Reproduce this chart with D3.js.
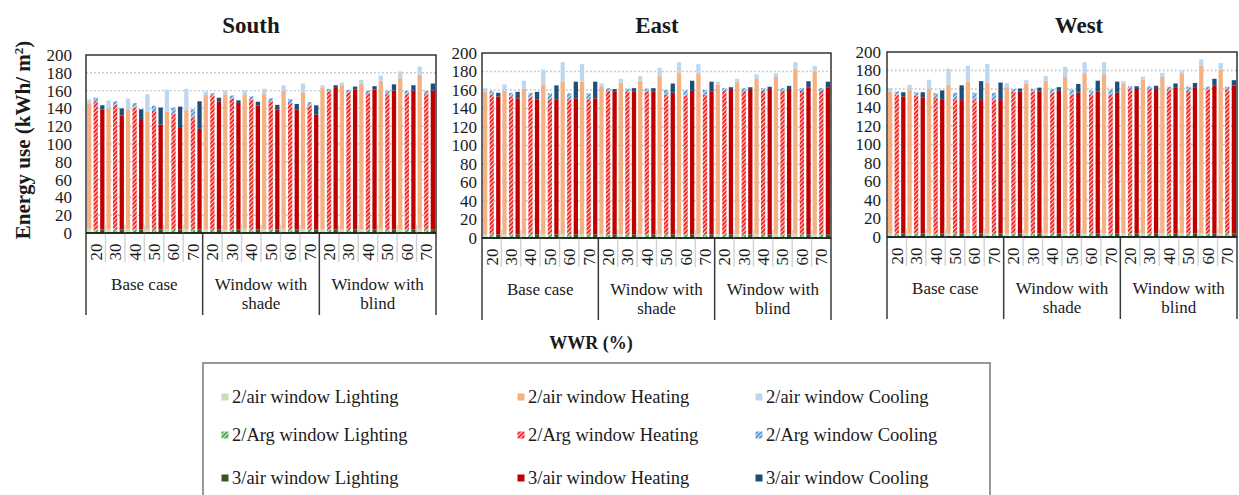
<!DOCTYPE html>
<html>
<head>
<meta charset="utf-8">
<script src="https://cdn.jsdelivr.net/npm/d3@7"></script>
<style>
  html, body { margin: 0; padding: 0; background: #fff; }
  svg { display: block; font-family: "Liberation Serif", "Times New Roman", serif; }
</style>
</head>
<body>
<svg id="chart" width="1239" height="495"></svg>
<script>
// ---- Data -------------------------------------------------------------
const orientations = ["South", "East", "West"];
const caseLabels = [["Base case"], ["Window with", "shade"], ["Window with", "blind"]];
const wwrLabels = ["20", "30", "40", "50", "60", "70"];
const windowTypes = ["2/air window", "2/Arg window", "3/air window"];
const components = ["Lighting", "Heating", "Cooling"];
const yTicks = [0, 20, 40, 60, 80, 100, 120, 140, 160, 180, 200];

// Lighting energy (kWh/m²); 18 values = 3 cases x 6 WWR
const air2Lighting = [4, 4, 4, 4, 4, 4, 4, 4, 4, 4, 4, 4, 4, 4, 4, 4, 4, 4];
const arg2Lighting = [4, 4, 4, 4, 4, 4, 4, 4, 4, 4, 4, 4, 4, 4, 4, 4, 4, 4];
const air3Lighting = [4, 4, 4, 4, 4, 4, 4, 4, 4, 4, 4, 4, 4, 4, 4, 4, 4, 4];

// South
const southAir2Heating = [141, 136, 135, 132, 132, 134, 151, 152, 151, 152, 156, 154, 159, 162, 164, 167, 170, 174];
const southAir2Cooling = [5, 9, 12, 20, 25, 24, 4, 4, 5, 6, 6, 10, 3, 3, 4, 6, 7.5, 9];
const southArg2Heating = [144, 140, 137, 133, 130, 126, 150, 147, 146, 144, 142, 139, 155, 154, 153, 152, 152, 152];
const southArg2Cooling = [4, 4, 5, 6, 7, 9, 3, 3.5, 3.5, 3.5, 4.5, 4, 3, 3, 3, 4, 4, 4];
const southAir3Heating = [135, 128, 124, 118, 115, 113, 144, 142, 139, 135, 135, 129, 159, 157, 157, 156, 156, 156];
const southAir3Cooling = [4.5, 8, 11, 19, 23, 31, 4, 3, 4.5, 5, 6, 10.5, 3, 3.5, 4, 7, 6, 8];

// East
const eastAir2Heating = [154, 155, 157, 162, 165, 165, 160, 164, 166, 171, 175, 174, 162, 165, 168, 170, 179, 176];
const eastAir2Cooling = [4, 7, 9, 16, 21, 19, 3, 4, 5, 9, 11, 10, 3, 3, 5, 4, 7, 6];
const eastArg2Heating = [151, 149, 148, 146, 146, 146, 155, 154, 154, 151, 150, 151, 155, 155, 155, 155, 155, 155];
const eastArg2Cooling = [4, 4, 5, 6.5, 6.5, 6.5, 3, 3.5, 3.5, 5, 5.5, 5, 3, 3, 3, 3, 3, 3];
const eastAir3Heating = [149, 147, 146, 146, 147, 147, 154, 154, 154, 153, 155, 154, 156, 156, 156, 157, 159, 159];
const eastAir3Cooling = [4, 7, 8, 15, 18, 18, 3, 4, 4, 10, 11, 11, 3, 3, 3.5, 3.5, 6.5, 6];

// West
const westAir2Heating = [153, 155, 156, 161, 164, 163, 158, 162, 165, 169, 173, 172, 162, 166, 169, 173, 181, 177];
const westAir2Cooling = [4, 5.5, 10, 17, 17, 20, 4.5, 3.5, 5, 11, 12, 13, 2.5, 3.5, 4.5, 3, 7, 7];
const westArg2Heating = [150, 149, 147, 145, 144, 144, 153, 153, 152, 150, 150, 150, 156, 156, 155, 154, 155, 155];
const westArg2Cooling = [3.5, 3.5, 4.5, 7, 8, 8, 3, 3, 4, 5.5, 4.5, 5.5, 3, 3, 3.5, 4.5, 3.5, 3.5];
const westAir3Heating = [148, 147, 145, 144, 144, 144, 153, 153, 154, 152, 153, 152, 156, 156, 158, 158, 160, 160];
const westAir3Cooling = [4.5, 5.5, 9.5, 16, 20.5, 19, 3.5, 4.5, 4, 9.5, 12, 12, 3, 3.5, 4, 4.5, 7, 5.5];

const lightingByWindow = [air2Lighting, arg2Lighting, air3Lighting];
const panelSeries = {
  South: [[southAir2Heating, southAir2Cooling], [southArg2Heating, southArg2Cooling], [southAir3Heating, southAir3Cooling]],
  East:  [[eastAir2Heating, eastAir2Cooling],   [eastArg2Heating, eastArg2Cooling],   [eastAir3Heating, eastAir3Cooling]],
  West:  [[westAir2Heating, westAir2Cooling],   [westArg2Heating, westArg2Cooling],   [westAir3Heating, westAir3Cooling]]
};

// ---- Drawing ----------------------------------------------------------
const svg = d3.select("#chart");
const defs = svg.append("defs");

function hatch(id, color) {
  const p = defs.append("pattern")
    .attr("id", id).attr("patternUnits", "userSpaceOnUse")
    .attr("width", 3).attr("height", 3)
    .attr("patternTransform", "rotate(45)");
  p.append("rect").attr("width", 3).attr("height", 3).attr("fill", "#ffffff");
  p.append("rect").attr("width", 2.2).attr("height", 3).attr("fill", color);
}
hatch("hatchGreen", "#3fae4a");
hatch("hatchRed", "#f42a2a");
hatch("hatchBlue", "#5b9bd5");

const fills = [
  ["#c5e0b4", "#f4b183", "#bdd7ee"],
  ["url(#hatchGreen)", "url(#hatchRed)", "url(#hatchBlue)"],
  ["#385723", "#c00000", "#1f4e79"]
];

const panelLayout = [
  { left: 86,  right: 436,  top: 55, bottom: 233, labelGap: 14, titleX: 251 },
  { left: 482, right: 831,  top: 53, bottom: 238, labelGap: 5,  titleX: 657 },
  { left: 887, right: 1237, top: 52, bottom: 237, labelGap: 6,  titleX: 1079 }
];

const slots = d3.range(caseLabels.length * wwrLabels.length);
const stack = d3.stack().keys(components);

orientations.forEach((name, pi) => {
  const L = panelLayout[pi];
  const g = svg.append("g");

  const y = d3.scaleLinear().domain([0, 200]).range([L.bottom, L.top]);
  const x0 = d3.scaleBand().domain(slots).range([L.left, L.right]);
  const x1 = d3.scaleBand().domain(windowTypes).range([0, x0.bandwidth()])
    .paddingInner(0.35).paddingOuter(0.15);

  // title
  g.append("text").attr("x", L.titleX).attr("y", 33)
    .attr("text-anchor", "middle").attr("font-size", 23).attr("font-weight", "bold")
    .attr("fill", "#1a1a1a").text(name);

  // dotted gridlines
  g.append("g").selectAll("line").data(yTicks.filter(t => t > 0 && t < 200)).join("line")
    .attr("x1", L.left).attr("x2", L.right)
    .attr("y1", d => y(d)).attr("y2", d => y(d))
    .attr("stroke", "#bfbfbf").attr("stroke-width", 1.4).attr("stroke-dasharray", "1.6,2.4");

  // y axis labels
  const yAxis = d3.axisLeft(y).tickValues(yTicks).tickSize(0).tickPadding(L.labelGap);
  const ya = g.append("g").attr("transform", `translate(${L.left},0)`).call(yAxis);
  ya.select(".domain").remove();
  ya.attr("font-family", null);
  ya.selectAll("text").attr("font-size", 17).attr("fill", "#1a1a1a");

  // bars
  windowTypes.forEach((w, wi) => {
    const [heat, cool] = panelSeries[name][wi];
    const rows = slots.map(i => ({ Lighting: lightingByWindow[wi][i], Heating: heat[i], Cooling: cool[i] }));
    const layers = stack(rows);
    layers.forEach((layer, ci) => {
      g.append("g").selectAll("rect").data(layer).join("rect")
        .attr("x", (d, i) => x0(i) + x1(w))
        .attr("width", x1.bandwidth())
        .attr("y", d => y(d[1]))
        .attr("height", d => y(d[0]) - y(d[1]))
        .attr("fill", fills[wi][ci]);
    });
  });

  // plot frame
  g.append("rect").attr("x", L.left).attr("y", L.top)
    .attr("width", L.right - L.left).attr("height", L.bottom - L.top)
    .attr("fill", "none").attr("stroke", "#262626").attr("stroke-width", 1.4);

  // light separators between WWR labels
  const sepSlots = slots.concat([slots.length]).filter(i => i % wwrLabels.length !== 0);
  g.append("g").selectAll("line").data(sepSlots).join("line")
    .attr("x1", i => L.left + i * x0.step()).attr("x2", i => L.left + i * x0.step())
    .attr("y1", L.bottom - 8).attr("y2", L.bottom + 29)
    .attr("stroke", "#d2d2d2").attr("stroke-width", 1.4);

  // group separators
  const groupEdges = d3.range(caseLabels.length + 1).map(k => k * wwrLabels.length);
  g.append("g").selectAll("line").data(groupEdges).join("line")
    .attr("x1", i => L.left + i * x0.step()).attr("x2", i => L.left + i * x0.step())
    .attr("y1", L.bottom).attr("y2", L.bottom + 82)
    .attr("stroke", "#3a3a3a").attr("stroke-width", 1.5);

  // bottom axis line
  g.append("line").attr("x1", L.left).attr("x2", L.right)
    .attr("y1", L.bottom).attr("y2", L.bottom)
    .attr("stroke", "#1a1a1a").attr("stroke-width", 1.6);

  // WWR tick labels (rotated)
  g.append("g").selectAll("text").data(slots).join("text")
    .attr("transform", i => `translate(${x0(i) + x0.bandwidth() / 2},${L.bottom + 19}) rotate(-90)`)
    .attr("text-anchor", "middle").attr("dy", "0.35em")
    .attr("font-size", 17).attr("fill", "#1a1a1a")
    .text(i => wwrLabels[i % wwrLabels.length]);

  // case labels
  caseLabels.forEach((lines, k) => {
    const cx = L.left + (k * wwrLabels.length + wwrLabels.length / 2) * x0.step();
    const t = g.append("text").attr("text-anchor", "middle")
      .attr("font-size", 17).attr("fill", "#1a1a1a");
    lines.forEach((ln, li) => {
      t.append("tspan").attr("x", cx).attr("y", L.bottom + 57 + li * 19).text(ln);
    });
  });
});

// y axis title
svg.append("text")
  .attr("transform", "translate(30,140) rotate(-90)")
  .attr("text-anchor", "middle").attr("font-size", 21).attr("font-weight", "bold")
  .attr("fill", "#1a1a1a")
  .html("Energy use (kWh/ m<tspan dy='-7' font-size='13'>2</tspan><tspan dy='7'>)</tspan>");

// x axis title
svg.append("text").attr("x", 591).attr("y", 349)
  .attr("text-anchor", "middle").attr("font-size", 18).attr("font-weight", "bold")
  .attr("fill", "#1a1a1a").text("WWR (%)");

// legend
const legend = svg.append("g");
legend.append("rect").attr("x", 203).attr("y", 363).attr("width", 787).attr("height", 140)
  .attr("fill", "#fff").attr("stroke", "#7f7f7f").attr("stroke-width", 1.6);

const legendColX = [225, 521, 759];
const legendRowY = [397, 435, 478];
windowTypes.forEach((w, wi) => {
  components.forEach((c, ci) => {
    const lx = legendColX[ci], ly = legendRowY[wi];
    legend.append("rect").attr("x", lx - 3.5).attr("y", ly - 3.5).attr("width", 7).attr("height", 7)
      .attr("fill", fills[wi][ci]);
    legend.append("text").attr("x", lx + 7).attr("y", ly).attr("dy", "0.35em")
      .attr("font-size", 18.5).attr("fill", "#1a1a1a")
      .text(`${w} ${c}`);
  });
});
</script>
</body>
</html>
